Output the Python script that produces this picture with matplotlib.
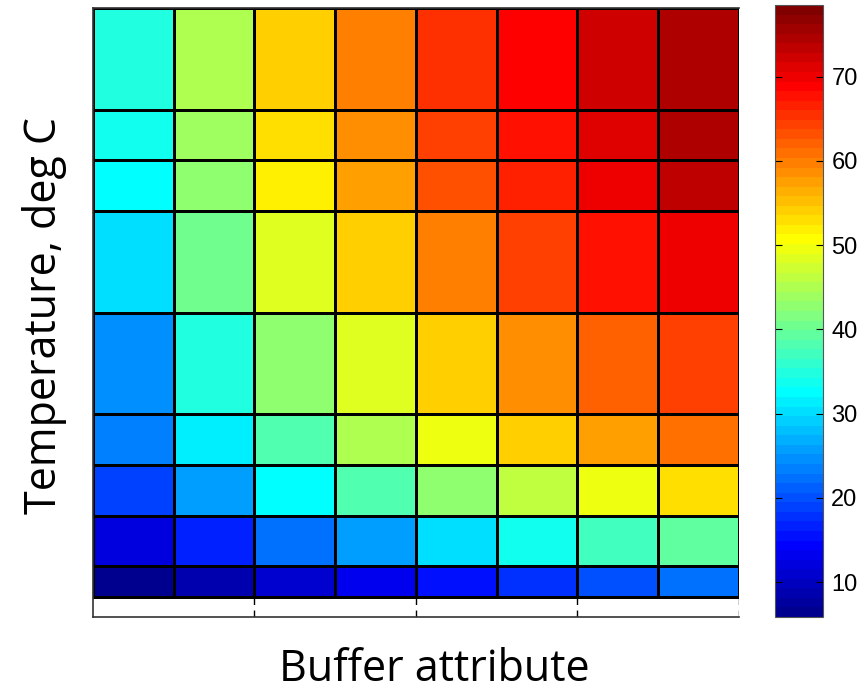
"""Buffer attribute vs temperature heat map (pcolor-style with uneven rows)."""

import matplotlib

matplotlib.use("Agg")
import matplotlib.pyplot as plt
import numpy as np
from matplotlib.colors import ListedColormap

# column edges (buffer attribute) and row edges (temperature, deg C)
x_edges = [0, 1, 2, 3, 4, 5, 6, 7, 8]
temp_edges = [4, 10, 20, 30, 40, 60, 80, 90, 100, 120]

# cell values, bottom row first
row_4_10 = [6.0, 8.2, 11.0, 13.2, 15.5, 17.8, 20.1, 22.3]
row_10_20 = [12.1, 16.6, 22.3, 25.7, 30.4, 33.7, 37.1, 39.4]
row_20_30 = [18.9, 25.7, 32.5, 38.2, 42.7, 46.1, 49.6, 52.9]
row_30_40 = [23.5, 31.4, 38.2, 45.0, 49.6, 53.9, 57.5, 60.9]
row_40_60 = [24.6, 34.8, 42.7, 48.5, 53.9, 58.6, 62.0, 64.3]
row_60_80 = [30.4, 40.5, 48.5, 53.9, 59.8, 64.3, 67.8, 69.9]
row_80_90 = [32.5, 42.7, 51.8, 57.5, 63.1, 66.6, 69.9, 73.4]
row_90_100 = [33.7, 44.0, 52.9, 58.8, 64.3, 67.8, 71.0, 74.9]
row_100_120 = [35.0, 45.0, 53.9, 59.8, 65.4, 68.8, 72.2, 74.7]

cbar_ticks = [10, 20, 30, 40, 50, 60, 70]
clim = (5.85, 78.5)

values = np.array([row_4_10, row_10_20, row_20_30, row_30_40, row_40_60,
                   row_60_80, row_80_90, row_90_100, row_100_120])


def matlab_jet(n=64):
    # same construction as MATLAB's jet.m
    q = int(np.ceil(n / 4))
    u = np.concatenate([np.arange(1, q + 1) / q, np.ones(q - 1),
                        np.arange(q, 0, -1) / q])
    g = int(np.ceil(q / 2)) - (n % 4 == 1) + np.arange(1, len(u) + 1)
    r = g + q
    b = g - q
    g = g[g <= n]
    r = r[r <= n]
    b = b[b >= 1]
    J = np.zeros((n, 3))
    J[r - 1, 0] = u[:len(r)]
    J[g - 1, 1] = u[:len(g)]
    J[b - 1, 2] = u[len(u) - len(b):]
    return ListedColormap(J)


W, H = 862, 693
fig = plt.figure(figsize=(W / 100, H / 100), dpi=100)
ax = fig.add_axes([93 / W, 1 - 617 / H, (739 - 93) / W, (617 - 8) / H])

mesh = ax.pcolormesh(x_edges, temp_edges, values, cmap=matlab_jet(64),
                     vmin=clim[0], vmax=clim[1], edgecolors="black",
                     linewidth=0.75, zorder=2)
ax.set_xlim(0, 8)
ax.set_ylim(0, 120)

# dashed x grid only shows in the empty strip under the mesh
ax.set_xticks([2, 4, 6, 8])
ax.set_xticklabels([])
ax.set_yticks([])
ax.tick_params(axis="x", length=0)
ax.grid(axis="x", color="black", linestyle=(0, (5, 4)), linewidth=1.0, zorder=1)
ax.spines["right"].set_visible(False)
for side in ("left", "bottom", "top"):
    ax.spines[side].set_linewidth(1.2)
    ax.spines[side].set_color("#333333")

label_font = dict(family=["Open Sans", "DejaVu Sans"], fontsize=31)
fig.text(434 / W, 1 - 670 / H, "Buffer attribute", ha="center", va="center",
         **label_font)
fig.text(45 / W, 1 - 315 / H, "Temperature, deg C", ha="center", va="center",
         rotation=90, **label_font)

cax = fig.add_axes([775 / W, 1 - 617 / H, 48 / W, 612 / H])
cbar = fig.colorbar(mesh, cax=cax, ticks=cbar_ticks)
cbar.outline.set_edgecolor("#555555")
cax.tick_params(direction="in", left=True, right=True, length=5,
                labelsize=17, pad=6)
for lab in cax.get_yticklabels():
    lab.set_family(["Liberation Sans", "DejaVu Sans"])

fig.savefig("out.png", dpi=100)
